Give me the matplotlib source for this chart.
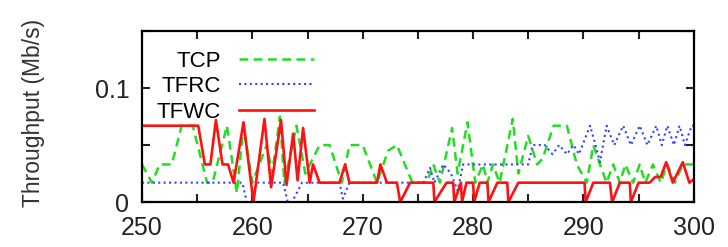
import matplotlib
matplotlib.use("Agg")
import matplotlib.pyplot as plt

# time (s) / throughput (Mb/s)
tcp_t = [250.0, 250.9, 251.6, 252.7, 253.6, 254.6, 255.9, 256.4, 257.7, 258.6,
         259.2, 260.0, 261.3, 261.8, 262.5, 262.9, 264.0, 264.8, 266.1, 267.0,
         268.1, 268.8, 270.0, 271.3, 272.3, 273.1, 274.5, 275.8, 276.4, 277.0,
         278.1, 278.6, 279.5, 280.2, 280.9, 281.3, 281.8, 282.4, 283.6, 284.1,
         285.0, 285.8, 286.3, 287.3, 288.5, 289.4, 290.3, 290.9, 291.5, 292.1,
         292.7, 293.3, 293.8, 294.5, 295.1, 295.6, 296.3, 297.0, 297.6, 298.3,
         299.0, 300.0]
tcp_v = [0.033, 0.017, 0.033, 0.033, 0.067, 0.067, 0.017, 0.017, 0.067, 0.008,
         0.067, 0.017, 0.050, 0.025, 0.075, 0.017, 0.067, 0.025, 0.050, 0.050,
         0.017, 0.050, 0.050, 0.017, 0.045, 0.050, 0.017, 0.017, 0.033, 0.017,
         0.065, 0.025, 0.070, 0.017, 0.033, 0.017, 0.033, 0.017, 0.073, 0.025,
         0.058, 0.033, 0.038, 0.067, 0.067, 0.033, 0.017, 0.050, 0.033, 0.017,
         0.033, 0.017, 0.033, 0.017, 0.033, 0.017, 0.033, 0.017, 0.033, 0.017,
         0.033, 0.033]

tfrc_t = [250.0, 259.1, 259.5, 260.0, 260.4, 262.8, 263.2, 263.6, 264.5, 267.9,
          268.2, 268.8, 275.5, 276.1, 276.5, 277.3, 278.0, 278.6, 279.1, 285.0,
          285.4, 286.5, 287.2, 287.8, 288.5, 289.1, 289.6, 290.6, 291.1, 291.5,
          292.1, 292.8, 293.6, 294.3, 295.1, 295.8, 296.6, 297.1, 297.6, 298.2,
          298.7, 299.2, 299.8, 300.0]
tfrc_v = [0.017, 0.017, 0.000, 0.000, 0.017, 0.017, 0.000, 0.000, 0.017, 0.017,
          0.003, 0.017, 0.017, 0.030, 0.017, 0.033, 0.025, 0.010, 0.033, 0.033,
          0.050, 0.050, 0.042, 0.050, 0.042, 0.050, 0.042, 0.067, 0.050, 0.035,
          0.067, 0.050, 0.067, 0.050, 0.067, 0.050, 0.067, 0.050, 0.067, 0.050,
          0.067, 0.050, 0.067, 0.067]

tfwc_t = [250.0, 255.1, 255.7, 256.2, 256.7, 257.3, 257.8, 258.3, 259.2, 260.1,
          261.1, 261.7, 262.6, 263.1, 263.7, 264.1, 264.6, 265.2, 265.5, 266.1,
          267.9, 268.4, 268.8, 271.3, 271.6, 272.2, 273.1, 273.4, 274.3, 276.4,
          276.5, 277.6, 278.2, 278.3, 278.9, 279.0, 279.4, 280.0, 280.1, 280.6,
          281.3, 281.4, 282.2, 283.1, 283.2, 284.1, 290.1, 290.2, 290.9, 292.4,
          292.6, 293.3, 294.2, 294.3, 295.0, 296.0, 296.5, 297.0, 297.5, 298.1,
          299.0, 299.6, 300.0]
tfwc_v = [0.067, 0.067, 0.033, 0.033, 0.072, 0.033, 0.033, 0.017, 0.070, 0.000,
          0.073, 0.013, 0.072, 0.015, 0.060, 0.019, 0.065, 0.017, 0.033, 0.017,
          0.017, 0.033, 0.017, 0.017, 0.033, 0.017, 0.017, 0.000, 0.017, 0.017,
          0.000, 0.017, 0.017, 0.000, 0.017, 0.000, 0.017, 0.017, 0.000, 0.017,
          0.017, 0.000, 0.017, 0.017, 0.000, 0.017, 0.017, 0.000, 0.017, 0.017,
          0.000, 0.017, 0.017, 0.000, 0.017, 0.017, 0.022, 0.022, 0.035, 0.017,
          0.035, 0.017, 0.020]

plt.rcParams["font.family"] = ["Liberation Sans", "DejaVu Sans"]

fig = plt.figure(figsize=(7.28, 2.47), dpi=100)
ax = fig.add_axes([0.195, 0.182, 0.758, 0.692])

ax.plot(tcp_t, tcp_v, color="#22dd22", lw=1.8, ls=(0, (3.5, 2.2)), label="TCP")
ax.plot(tfrc_t, tfrc_v, color="#3344ff", lw=1.5, ls=(0, (1, 1.6)), label="TFRC")
ax.plot(tfwc_t, tfwc_v, color="#ff1111", lw=1.9, label="TFWC")

ax.set_xlim(250, 300)
ax.set_ylim(0, 0.15)
ax.set_xticks([250, 255, 260, 265, 270, 275, 280, 285, 290, 295, 300])
ax.set_xticklabels(["250", "", "260", "", "270", "", "280", "", "290", "", "300"])
ax.set_yticks([0, 0.05, 0.1, 0.15])
ax.set_yticklabels(["0", "", "0.1", ""])
ax.tick_params(direction="in", length=6, width=1.5, top=True, right=True,
               labelsize=18, colors="#222222")
ax.tick_params(axis="x", pad=10)
ax.tick_params(axis="y", pad=9)
for s in ax.spines.values():
    s.set_linewidth(1.6)

ax.set_ylabel("Throughput (Mb/s)", fontsize=16.5, color="#333333")
ax.yaxis.set_label_coords(-0.176, 0.52)

ax.legend(loc="upper left", bbox_to_anchor=(0.027, 0.885), frameon=False,
          markerfirst=False, fontsize=16, handlelength=3.4,
          handletextpad=0.8, labelspacing=0.2, borderpad=0, borderaxespad=0)

fig.savefig("out.png", dpi=100)
